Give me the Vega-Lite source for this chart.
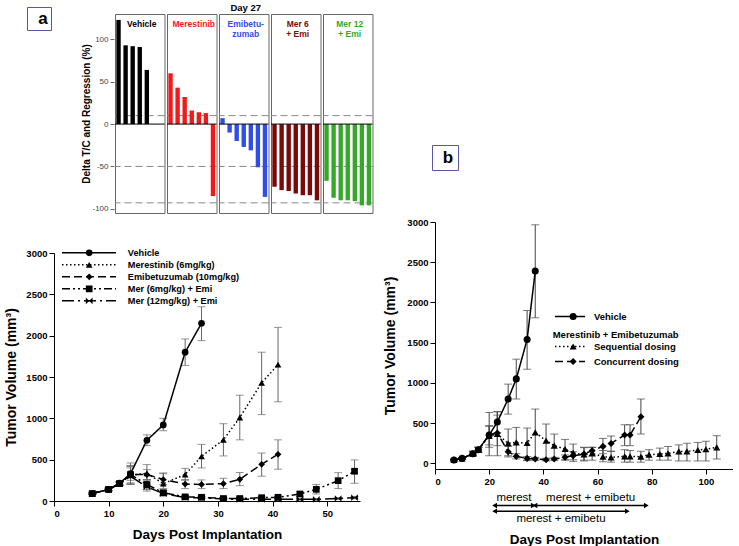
{
  "$schema": "https://vega.github.io/schema/vega-lite/v6.json",
  "background": "white",
  "padding": {"left": 4, "top": 3, "right": 0, "bottom": 0},
  "config": {
    "font": "Liberation Sans",
    "view": {"stroke": null},
    "axis": {"grid": false, "labelColor": "black", "titleColor": "black", "tickColor": "black", "domainColor": "black", "labelFont": "Liberation Sans", "titleFont": "Liberation Sans"},
    "legend": {"labelFont": "Liberation Sans", "titleFont": "Liberation Sans"}
  },
  "datasets": {
    "bars": [
      {"group": "Vehicle", "rank": 1, "value": 123},
      {"group": "Vehicle", "rank": 2, "value": 93},
      {"group": "Vehicle", "rank": 3, "value": 92},
      {"group": "Vehicle", "rank": 4, "value": 91},
      {"group": "Vehicle", "rank": 5, "value": 64},
      {"group": "Merestinib", "rank": 1, "value": 60},
      {"group": "Merestinib", "rank": 2, "value": 43},
      {"group": "Merestinib", "rank": 3, "value": 32},
      {"group": "Merestinib", "rank": 4, "value": 16},
      {"group": "Merestinib", "rank": 5, "value": 14},
      {"group": "Merestinib", "rank": 6, "value": 13},
      {"group": "Merestinib", "rank": 7, "value": -85},
      {"group": "Emibetu-\nzumab", "rank": 1, "value": 7},
      {"group": "Emibetu-\nzumab", "rank": 2, "value": -10},
      {"group": "Emibetu-\nzumab", "rank": 3, "value": -20},
      {"group": "Emibetu-\nzumab", "rank": 4, "value": -27},
      {"group": "Emibetu-\nzumab", "rank": 5, "value": -31},
      {"group": "Emibetu-\nzumab", "rank": 6, "value": -51},
      {"group": "Emibetu-\nzumab", "rank": 7, "value": -86},
      {"group": "Mer 6\n+ Emi", "rank": 1, "value": -74},
      {"group": "Mer 6\n+ Emi", "rank": 2, "value": -78},
      {"group": "Mer 6\n+ Emi", "rank": 3, "value": -79},
      {"group": "Mer 6\n+ Emi", "rank": 4, "value": -82},
      {"group": "Mer 6\n+ Emi", "rank": 5, "value": -84},
      {"group": "Mer 6\n+ Emi", "rank": 6, "value": -84},
      {"group": "Mer 6\n+ Emi", "rank": 7, "value": -90},
      {"group": "Mer 12\n+ Emi", "rank": 1, "value": -67},
      {"group": "Mer 12\n+ Emi", "rank": 2, "value": -87},
      {"group": "Mer 12\n+ Emi", "rank": 3, "value": -90},
      {"group": "Mer 12\n+ Emi", "rank": 4, "value": -90},
      {"group": "Mer 12\n+ Emi", "rank": 5, "value": -91},
      {"group": "Mer 12\n+ Emi", "rank": 6, "value": -96},
      {"group": "Mer 12\n+ Emi", "rank": 7, "value": -96}
    ],
    "tumorA": [
      {"series": "Vehicle", "day": 7, "vol": 90, "lo": 80, "hi": 100},
      {"series": "Vehicle", "day": 10, "vol": 140, "lo": 125, "hi": 155},
      {"series": "Vehicle", "day": 12, "vol": 215, "lo": 195, "hi": 235},
      {"series": "Vehicle", "day": 14, "vol": 330, "lo": 250, "hi": 460},
      {"series": "Vehicle", "day": 17, "vol": 735, "lo": 670, "hi": 800},
      {"series": "Vehicle", "day": 20, "vol": 920, "lo": 850, "hi": 1000},
      {"series": "Vehicle", "day": 24, "vol": 1800, "lo": 1640, "hi": 1960},
      {"series": "Vehicle", "day": 27, "vol": 2150, "lo": 1940, "hi": 2350},
      {"series": "Merestinib (6mg/kg)", "day": 7, "vol": 90, "lo": 80, "hi": 100},
      {"series": "Merestinib (6mg/kg)", "day": 10, "vol": 140, "lo": 125, "hi": 155},
      {"series": "Merestinib (6mg/kg)", "day": 12, "vol": 210, "lo": 190, "hi": 230},
      {"series": "Merestinib (6mg/kg)", "day": 14, "vol": 310, "lo": 210, "hi": 420},
      {"series": "Merestinib (6mg/kg)", "day": 17, "vol": 335, "lo": 250, "hi": 440},
      {"series": "Merestinib (6mg/kg)", "day": 20, "vol": 210, "lo": 150, "hi": 330},
      {"series": "Merestinib (6mg/kg)", "day": 24, "vol": 320, "lo": 250, "hi": 395},
      {"series": "Merestinib (6mg/kg)", "day": 27, "vol": 540, "lo": 400, "hi": 685},
      {"series": "Merestinib (6mg/kg)", "day": 31, "vol": 740, "lo": 545, "hi": 935},
      {"series": "Merestinib (6mg/kg)", "day": 34, "vol": 1010, "lo": 740, "hi": 1280},
      {"series": "Merestinib (6mg/kg)", "day": 38, "vol": 1430, "lo": 1045, "hi": 1800},
      {"series": "Merestinib (6mg/kg)", "day": 41, "vol": 1650, "lo": 1200, "hi": 2100},
      {"series": "Emibetuzumab (10mg/kg)", "day": 7, "vol": 90, "lo": 80, "hi": 100},
      {"series": "Emibetuzumab (10mg/kg)", "day": 10, "vol": 140, "lo": 125, "hi": 155},
      {"series": "Emibetuzumab (10mg/kg)", "day": 12, "vol": 210, "lo": 190, "hi": 230},
      {"series": "Emibetuzumab (10mg/kg)", "day": 14, "vol": 320, "lo": 220, "hi": 430},
      {"series": "Emibetuzumab (10mg/kg)", "day": 17, "vol": 320, "lo": 260, "hi": 380},
      {"series": "Emibetuzumab (10mg/kg)", "day": 20, "vol": 260, "lo": 200, "hi": 340},
      {"series": "Emibetuzumab (10mg/kg)", "day": 24, "vol": 205, "lo": 150, "hi": 260},
      {"series": "Emibetuzumab (10mg/kg)", "day": 27, "vol": 200, "lo": 150, "hi": 255},
      {"series": "Emibetuzumab (10mg/kg)", "day": 31, "vol": 210, "lo": 150, "hi": 275},
      {"series": "Emibetuzumab (10mg/kg)", "day": 34, "vol": 262, "lo": 185, "hi": 345},
      {"series": "Emibetuzumab (10mg/kg)", "day": 38, "vol": 444, "lo": 300, "hi": 580},
      {"series": "Emibetuzumab (10mg/kg)", "day": 41, "vol": 565, "lo": 385, "hi": 740},
      {"series": "Mer (6mg/kg) + Emi", "day": 7, "vol": 90, "lo": 80, "hi": 100},
      {"series": "Mer (6mg/kg) + Emi", "day": 10, "vol": 140, "lo": 125, "hi": 155},
      {"series": "Mer (6mg/kg) + Emi", "day": 12, "vol": 210, "lo": 190, "hi": 230},
      {"series": "Mer (6mg/kg) + Emi", "day": 14, "vol": 320, "lo": 200, "hi": 420},
      {"series": "Mer (6mg/kg) + Emi", "day": 17, "vol": 200, "lo": 140, "hi": 260},
      {"series": "Mer (6mg/kg) + Emi", "day": 20, "vol": 100, "lo": 70, "hi": 130},
      {"series": "Mer (6mg/kg) + Emi", "day": 24, "vol": 50, "lo": 35, "hi": 65},
      {"series": "Mer (6mg/kg) + Emi", "day": 27, "vol": 45, "lo": 30, "hi": 60},
      {"series": "Mer (6mg/kg) + Emi", "day": 31, "vol": 30, "lo": 20, "hi": 40},
      {"series": "Mer (6mg/kg) + Emi", "day": 34, "vol": 30, "lo": 20, "hi": 40},
      {"series": "Mer (6mg/kg) + Emi", "day": 38, "vol": 40, "lo": 25, "hi": 55},
      {"series": "Mer (6mg/kg) + Emi", "day": 41, "vol": 45, "lo": 30, "hi": 60},
      {"series": "Mer (6mg/kg) + Emi", "day": 45, "vol": 85, "lo": 60, "hi": 110},
      {"series": "Mer (6mg/kg) + Emi", "day": 48, "vol": 141, "lo": 85, "hi": 200},
      {"series": "Mer (6mg/kg) + Emi", "day": 52, "vol": 246, "lo": 150, "hi": 343},
      {"series": "Mer (6mg/kg) + Emi", "day": 55, "vol": 360, "lo": 214, "hi": 497},
      {"series": "Mer (12mg/kg) + Emi", "day": 7, "vol": 90, "lo": 80, "hi": 100},
      {"series": "Mer (12mg/kg) + Emi", "day": 10, "vol": 140, "lo": 125, "hi": 155},
      {"series": "Mer (12mg/kg) + Emi", "day": 12, "vol": 210, "lo": 190, "hi": 230},
      {"series": "Mer (12mg/kg) + Emi", "day": 14, "vol": 300, "lo": 200, "hi": 400},
      {"series": "Mer (12mg/kg) + Emi", "day": 17, "vol": 170, "lo": 120, "hi": 220},
      {"series": "Mer (12mg/kg) + Emi", "day": 20, "vol": 90, "lo": 60, "hi": 120},
      {"series": "Mer (12mg/kg) + Emi", "day": 24, "vol": 40, "lo": 25, "hi": 55},
      {"series": "Mer (12mg/kg) + Emi", "day": 27, "vol": 40, "lo": 25, "hi": 55},
      {"series": "Mer (12mg/kg) + Emi", "day": 31, "vol": 25, "lo": 15, "hi": 35},
      {"series": "Mer (12mg/kg) + Emi", "day": 34, "vol": 20, "lo": 10, "hi": 30},
      {"series": "Mer (12mg/kg) + Emi", "day": 38, "vol": 20, "lo": 10, "hi": 30},
      {"series": "Mer (12mg/kg) + Emi", "day": 41, "vol": 20, "lo": 10, "hi": 30},
      {"series": "Mer (12mg/kg) + Emi", "day": 45, "vol": 20, "lo": 10, "hi": 30},
      {"series": "Mer (12mg/kg) + Emi", "day": 48, "vol": 20, "lo": 10, "hi": 30},
      {"series": "Mer (12mg/kg) + Emi", "day": 52, "vol": 30, "lo": 20, "hi": 40},
      {"series": "Mer (12mg/kg) + Emi", "day": 55, "vol": 40, "lo": 25, "hi": 55}
    ],
    "tumorB": [
      {"series": "Vehicle", "day": 7, "vol": 42, "lo": 32, "hi": 52},
      {"series": "Vehicle", "day": 10, "vol": 62, "lo": 52, "hi": 72},
      {"series": "Vehicle", "day": 14, "vol": 120, "lo": 95, "hi": 150},
      {"series": "Vehicle", "day": 16, "vol": 170, "lo": 140, "hi": 200},
      {"series": "Vehicle", "day": 20, "vol": 352, "lo": 230, "hi": 470},
      {"series": "Vehicle", "day": 23, "vol": 515, "lo": 380, "hi": 645},
      {"series": "Vehicle", "day": 27, "vol": 800, "lo": 612, "hi": 985},
      {"series": "Vehicle", "day": 30, "vol": 1050, "lo": 800, "hi": 1295},
      {"series": "Vehicle", "day": 34, "vol": 1540, "lo": 1170, "hi": 1900},
      {"series": "Vehicle", "day": 37, "vol": 2390, "lo": 1810, "hi": 2965},
      {"series": "Sequential dosing", "day": 7, "vol": 42, "lo": 32, "hi": 52},
      {"series": "Sequential dosing", "day": 10, "vol": 62, "lo": 52, "hi": 72},
      {"series": "Sequential dosing", "day": 14, "vol": 120, "lo": 95, "hi": 150},
      {"series": "Sequential dosing", "day": 16, "vol": 170, "lo": 140, "hi": 200},
      {"series": "Sequential dosing", "day": 20, "vol": 340, "lo": 200, "hi": 460},
      {"series": "Sequential dosing", "day": 23, "vol": 365, "lo": 95, "hi": 600},
      {"series": "Sequential dosing", "day": 27, "vol": 248, "lo": 95, "hi": 427},
      {"series": "Sequential dosing", "day": 30, "vol": 261, "lo": 83, "hi": 447},
      {"series": "Sequential dosing", "day": 34, "vol": 253, "lo": 34, "hi": 439},
      {"series": "Sequential dosing", "day": 37, "vol": 385, "lo": 67, "hi": 675},
      {"series": "Sequential dosing", "day": 41, "vol": 282, "lo": 55, "hi": 489},
      {"series": "Sequential dosing", "day": 44, "vol": 220, "lo": 60, "hi": 364},
      {"series": "Sequential dosing", "day": 48, "vol": 178, "lo": 40, "hi": 298},
      {"series": "Sequential dosing", "day": 51, "vol": 130, "lo": 25, "hi": 240},
      {"series": "Sequential dosing", "day": 55, "vol": 110, "lo": 30, "hi": 200},
      {"series": "Sequential dosing", "day": 58, "vol": 125, "lo": 40, "hi": 200},
      {"series": "Sequential dosing", "day": 62, "vol": 83, "lo": 20, "hi": 160},
      {"series": "Sequential dosing", "day": 65, "vol": 75, "lo": 15, "hi": 150},
      {"series": "Sequential dosing", "day": 70, "vol": 87, "lo": 15, "hi": 170},
      {"series": "Sequential dosing", "day": 72, "vol": 87, "lo": 15, "hi": 160},
      {"series": "Sequential dosing", "day": 76, "vol": 83, "lo": 15, "hi": 150},
      {"series": "Sequential dosing", "day": 79, "vol": 108, "lo": 40, "hi": 170},
      {"series": "Sequential dosing", "day": 83, "vol": 116, "lo": 40, "hi": 190},
      {"series": "Sequential dosing", "day": 86, "vol": 124, "lo": 40, "hi": 210},
      {"series": "Sequential dosing", "day": 90, "vol": 149, "lo": 30, "hi": 230},
      {"series": "Sequential dosing", "day": 93, "vol": 149, "lo": 30, "hi": 250},
      {"series": "Sequential dosing", "day": 97, "vol": 166, "lo": 30, "hi": 260},
      {"series": "Sequential dosing", "day": 100, "vol": 175, "lo": 30, "hi": 275},
      {"series": "Sequential dosing", "day": 104, "vol": 199, "lo": 54, "hi": 344},
      {"series": "Concurrent dosing", "day": 7, "vol": 42, "lo": 32, "hi": 52},
      {"series": "Concurrent dosing", "day": 10, "vol": 62, "lo": 52, "hi": 72},
      {"series": "Concurrent dosing", "day": 14, "vol": 120, "lo": 95, "hi": 150},
      {"series": "Concurrent dosing", "day": 16, "vol": 170, "lo": 140, "hi": 200},
      {"series": "Concurrent dosing", "day": 20, "vol": 352, "lo": 95, "hi": 632},
      {"series": "Concurrent dosing", "day": 23, "vol": 377, "lo": 220, "hi": 640},
      {"series": "Concurrent dosing", "day": 27, "vol": 145, "lo": 80, "hi": 215},
      {"series": "Concurrent dosing", "day": 30, "vol": 87, "lo": 55, "hi": 120},
      {"series": "Concurrent dosing", "day": 34, "vol": 62, "lo": 40, "hi": 85},
      {"series": "Concurrent dosing", "day": 37, "vol": 54, "lo": 35, "hi": 75},
      {"series": "Concurrent dosing", "day": 41, "vol": 46, "lo": 30, "hi": 65},
      {"series": "Concurrent dosing", "day": 44, "vol": 54, "lo": 35, "hi": 75},
      {"series": "Concurrent dosing", "day": 48, "vol": 75, "lo": 45, "hi": 105},
      {"series": "Concurrent dosing", "day": 51, "vol": 95, "lo": 45, "hi": 145},
      {"series": "Concurrent dosing", "day": 55, "vol": 116, "lo": 40, "hi": 195},
      {"series": "Concurrent dosing", "day": 58, "vol": 158, "lo": 90, "hi": 200},
      {"series": "Concurrent dosing", "day": 62, "vol": 211, "lo": 120, "hi": 310},
      {"series": "Concurrent dosing", "day": 65, "vol": 248, "lo": 150, "hi": 340},
      {"series": "Concurrent dosing", "day": 70, "vol": 352, "lo": 220, "hi": 480},
      {"series": "Concurrent dosing", "day": 72, "vol": 352, "lo": 220, "hi": 480},
      {"series": "Concurrent dosing", "day": 76, "vol": 580, "lo": 365, "hi": 800}
    ],
    "dosing": [
      {"label": "merest", "start": 22, "end": 36.3, "row": 1},
      {"label": "merest + emibetu", "start": 36.9, "end": 78, "row": 1},
      {"label": "merest + emibetu", "start": 22, "end": 71, "row": 2}
    ]
  },
  "resolve": {"scale": {"shape": "independent", "strokeDash": "independent", "color": "independent"}, "legend": {"shape": "independent", "strokeDash": "independent", "color": "independent"}},
  "hconcat": [
    {
      "resolve": {"scale": {"shape": "independent", "strokeDash": "independent", "color": "independent"}, "legend": {"shape": "independent", "strokeDash": "independent", "color": "independent"}},
      "concat": [
        {
          "resolve": {"scale": {"color": "independent"}, "legend": {"color": "independent"}},
          "concat": [
            {
              "width": 3, "height": 10,
              "data": {"values": [{"t": "a"}]},
              "mark": {"type": "point", "opacity": 0},
              "encoding": {
                "color": {"field": "t", "type": "nominal", "scale": {"range": ["transparent"]},
                  "legend": {"orient": "none", "legendX": -27, "legendY": -7, "title": null, "strokeColor": "#5a55a5", "padding": 3, "symbolSize": 30, "symbolOpacity": 0, "labelFontSize": 17, "labelFontWeight": "bold", "labelColor": "black", "labelOffset": -8.75, "clipHeight": 17, "labelExpr": "'a\u2002'",
                    "encode": {"legend": {"strokeWidth": {"value": 1.5}}}}}
              }
            },
            {
              "data": {"name": "bars"},
              "title": {"text": "Day 27", "fontSize": 9.5, "fontWeight": "bold", "color": "black", "font": "Liberation Sans", "offset": 1, "frame": "bounds", "anchor": "middle", "dx": 18},
              "facet": {
                "column": {
                  "field": "group", "type": "nominal",
                  "sort": ["Vehicle", "Merestinib", "Emibetu-\nzumab", "Mer 6\n+ Emi", "Mer 12\n+ Emi"],
                  "title": null,
                  "header": {"labels": false, "labelPadding": 0, "titlePadding": 0}
                }
              },
              "spacing": 0,
              "spec": {
                "width": 49.5, "height": 199,
                "view": {"stroke": "#666666", "strokeWidth": 1},
                "layer": [
                  {"transform": [{"filter": "datum.rank == 1"}], "mark": {"type": "rule", "color": "#888888", "strokeDash": [7, 4], "strokeWidth": 1}, "encoding": {"y": {"datum": 10}}},
                  {"transform": [{"filter": "datum.rank == 1"}], "mark": {"type": "rule", "color": "#888888", "strokeDash": [7, 4], "strokeWidth": 1}, "encoding": {"y": {"datum": -50}}},
                  {"transform": [{"filter": "datum.rank == 1"}], "mark": {"type": "rule", "color": "#888888", "strokeDash": [7, 4], "strokeWidth": 1}, "encoding": {"y": {"datum": -93}}},
                  {
                    "mark": {"type": "bar"},
                    "encoding": {
                      "x": {"field": "rank", "type": "ordinal", "scale": {"domain": [1, 2, 3, 4, 5, 6, 7], "paddingInner": 0.38, "paddingOuter": 0.19}, "axis": null},
                      "y": {"field": "value", "type": "quantitative", "scale": {"domain": [-105, 130], "nice": false},
                        "axis": {"title": "Delta T/C and Regression (%)", "values": [-100, -50, 0, 50, 100], "labelExpr": "replace(datum.label, '−', '-')", "domain": false, "tickColor": "#666666", "tickSize": 4, "labelColor": "#444444", "labelFontSize": 8, "labelPadding": 2, "titleFontSize": 10, "titleFontWeight": "bold", "titlePadding": 0}},
                      "color": {"field": "group", "type": "nominal", "scale": {"domain": ["Vehicle", "Merestinib", "Emibetu-\nzumab", "Mer 6\n+ Emi", "Mer 12\n+ Emi"], "range": ["#000000", "#f01a1a", "#2f4de8", "#7a0a0a", "#35a82a"]}, "legend": null}
                    }
                  },
                  {"transform": [{"filter": "datum.rank == 1"}], "mark": {"type": "rule", "color": "black", "strokeWidth": 1}, "encoding": {"y": {"datum": 0}}},
                  {
                    "transform": [{"filter": "datum.rank == 1"}],
                    "mark": {"type": "text", "baseline": "top", "align": "center", "lineBreak": "\n", "fontSize": 8.5, "fontWeight": "bold", "lineHeight": 10, "dx": 2},
                    "encoding": {
                      "y": {"datum": 123},
                      "text": {"field": "group"},
                      "color": {"field": "group", "type": "nominal", "legend": null}
                    }
                  }
                ]
              }
            }
          ],
          "columns": 2, "align": "none", "spacing": 22
        },
        {
          "width": 306, "height": 248,
          "data": {"name": "tumorA"},
          "encoding": {
            "x": {"field": "day", "type": "quantitative", "scale": {"domain": [0, 56], "nice": false},
              "axis": {"title": "Days Post Implantation", "values": [0, 10, 20, 30, 40, 50], "labelFontSize": 9.5, "labelFontWeight": "bold", "tickSize": 5, "labelPadding": 2, "titleFontSize": 13.5, "titleFontWeight": "bold", "titlePadding": 10}}
          },
          "layer": [
            {
              "mark": {"type": "rule", "color": "#666666", "strokeWidth": 1},
              "encoding": {
                "y": {"field": "lo", "type": "quantitative", "scale": {"domain": [0, 3000], "nice": false},
                  "axis": {"title": "Tumor Volume (mm³)", "format": "d", "values": [0, 500, 1000, 1500, 2000, 2500, 3000], "labelFontSize": 9.5, "labelFontWeight": "bold", "tickSize": 5, "labelPadding": 2, "titleFontSize": 14, "titleFontWeight": "bold", "titlePadding": 7}},
                "y2": {"field": "hi"}
              }
            },
            {"mark": {"type": "tick", "orient": "horizontal", "size": 8, "thickness": 1, "color": "#666666"}, "encoding": {"y": {"field": "lo", "type": "quantitative"}}},
            {"mark": {"type": "tick", "orient": "horizontal", "size": 8, "thickness": 1, "color": "#666666"}, "encoding": {"y": {"field": "hi", "type": "quantitative"}}},
            {
              "mark": {"type": "line", "color": "black", "strokeWidth": 1.5},
              "encoding": {
                "y": {"field": "vol", "type": "quantitative"},
                "strokeDash": {"field": "series", "type": "nominal",
                  "scale": {"domain": ["Vehicle", "Merestinib (6mg/kg)", "Emibetuzumab (10mg/kg)", "Mer (6mg/kg) + Emi", "Mer (12mg/kg) + Emi"], "range": [[1, 0], [1.5, 2.5], [8, 4], [8, 3, 2, 3, 2, 3], [12, 4, 2, 4]]},
                  "legend": {"orient": "none", "legendX": 7, "legendY": -6, "title": null, "symbolType": "stroke", "symbolSize": 2916, "symbolStrokeWidth": 1.5, "symbolStrokeColor": "black", "labelOpacity": 0, "labelFontSize": 9.2, "clipHeight": 11.6, "rowPadding": 0, "padding": 0}}
              }
            },
            {
              "mark": {"type": "point", "filled": true, "color": "black", "size": 45, "opacity": 1},
              "encoding": {
                "y": {"field": "vol", "type": "quantitative"},
                "shape": {"field": "series", "type": "nominal", "sort": null,
                  "scale": {"range": ["circle", "triangle-up", "diamond", "square", "M-1,-1L1,1L1,-1L-1,1Z"]},
                  "legend": {"orient": "none", "legendX": 30.6, "legendY": -6, "title": null, "symbolSize": 45, "symbolFillColor": "black", "symbolStrokeColor": "black", "symbolStrokeWidth": 0, "labelFontSize": 9.2, "labelFontWeight": "bold", "labelColor": "black", "labelOffset": 34, "labelLimit": 400, "clipHeight": 11.6, "rowPadding": 0, "padding": 0}}
              }
            }
          ]
        }
      ],
      "columns": 1, "align": "none", "spacing": 33
    },
    {
      "resolve": {"scale": {"shape": "independent", "strokeDash": "independent", "color": "independent"}, "legend": {"shape": "independent", "strokeDash": "independent", "color": "independent"}},
      "vconcat": [
        {
          "width": 3, "height": 198,
          "data": {"values": [{"t": "b"}]},
          "mark": {"type": "point", "opacity": 0},
          "encoding": {
            "color": {"field": "t", "type": "nominal", "scale": {"range": ["transparent"]},
              "legend": {"orient": "none", "legendX": -3, "legendY": 131, "title": null, "strokeColor": "#5a55a5", "padding": 4, "symbolSize": 30, "symbolOpacity": 0, "labelFontSize": 17, "labelFontWeight": "bold", "labelColor": "black", "labelOffset": -10.2, "clipHeight": 17, "labelExpr": "'b\u2002'",
                "encode": {"legend": {"strokeWidth": {"value": 1.5}}}}}
          }
        },
        {
          "width": 298, "height": 247,
          "data": {"name": "tumorB"},
          "encoding": {
            "x": {"field": "day", "type": "quantitative", "scale": {"domain": [0, 110], "nice": false},
              "axis": {"title": null, "values": [0, 20, 40, 60, 80, 100], "labelFontSize": 9.5, "labelFontWeight": "bold", "tickSize": 5, "labelPadding": 2}}
          },
          "layer": [
            {
              "mark": {"type": "rule", "color": "#444444", "strokeWidth": 1},
              "encoding": {
                "y": {"field": "lo", "type": "quantitative", "scale": {"domain": [-70, 3000], "nice": false},
                  "axis": {"title": "Tumor Volume (mm³)", "format": "d", "values": [0, 500, 1000, 1500, 2000, 2500, 3000], "labelFontSize": 9.5, "labelFontWeight": "bold", "tickSize": 5, "labelPadding": 2, "titleFontSize": 14, "titleFontWeight": "bold", "titlePadding": 9}},
                "y2": {"field": "hi"}
              }
            },
            {"mark": {"type": "tick", "orient": "horizontal", "size": 8, "thickness": 1, "color": "#444444"}, "encoding": {"y": {"field": "lo", "type": "quantitative"}}},
            {"mark": {"type": "tick", "orient": "horizontal", "size": 8, "thickness": 1, "color": "#444444"}, "encoding": {"y": {"field": "hi", "type": "quantitative"}}},
            {
              "mark": {"type": "line", "color": "black", "strokeWidth": 1.5},
              "encoding": {
                "y": {"field": "vol", "type": "quantitative"},
                "strokeDash": {"field": "series", "type": "nominal",
                  "scale": {"domain": ["Vehicle", "hdr", "Sequential dosing", "Concurrent dosing"], "range": [[1, 0], [0, 1000], [1.5, 2.5], [8, 4]]},
                  "legend": {"orient": "none", "legendX": 119, "legendY": 87, "title": null, "symbolType": "stroke", "symbolSize": 900, "symbolStrokeWidth": 1.5, "symbolStrokeColor": "black", "labelOpacity": 0, "labelFontSize": 9.5, "clipHeight": 15, "rowPadding": 0, "padding": 0}}
              }
            },
            {
              "mark": {"type": "point", "filled": true, "size": 50, "opacity": 1},
              "encoding": {
                "y": {"field": "vol", "type": "quantitative"},
                "shape": {"field": "series", "type": "nominal",
                  "scale": {"domain": ["Vehicle", " ", "Sequential dosing", "Concurrent dosing"], "range": ["circle", "M0,0", "triangle-up", "diamond"]},
                  "legend": {"orient": "none", "legendX": 133.4, "legendY": 87, "title": null, "symbolSize": 50, "symbolFillColor": "black", "symbolStrokeColor": "black", "symbolStrokeWidth": 0, "labelFontSize": 9.5, "labelFontWeight": "bold", "labelColor": "black", "labelOffset": 16, "labelLimit": 400, "clipHeight": 15, "rowPadding": 0, "padding": 0}},
                "color": {"field": "series", "type": "nominal", "scale": {"range": ["black"]},
                  "legend": {"orient": "none", "legendX": 117.7, "legendY": 108, "title": "Merestinib + Emibetuzumab", "titleFontSize": 9.5, "titleFontWeight": "bold", "titleColor": "black", "titlePadding": 0, "titleLimit": 400, "symbolOpacity": 0, "symbolSize": 1, "labelOpacity": 0, "labelFontSize": 1, "clipHeight": 1, "rowPadding": 0, "padding": 0}}
              }
            }
          ]
        },
        {
          "width": 298, "height": 27,
          "data": {"name": "dosing"},
          "encoding": {
            "y": {"field": "row", "type": "quantitative", "scale": {"domain": [0.2, 5], "reverse": true, "nice": false}, "axis": null}
          },
          "layer": [
            {
              "mark": {"type": "rule", "color": "black", "strokeWidth": 1.5},
              "encoding": {
                "x": {"field": "start", "type": "quantitative", "scale": {"domain": [0, 110], "nice": false},
                  "axis": {"title": "Days Post Implantation", "labels": false, "ticks": false, "domain": false, "titleFontSize": 13.5, "titleFontWeight": "bold", "titlePadding": 4}},
                "x2": {"field": "end"}
              }
            },
            {"mark": {"type": "point", "shape": "triangle-left", "filled": true, "color": "black", "size": 30, "opacity": 1}, "encoding": {"x": {"field": "start", "type": "quantitative"}}},
            {"mark": {"type": "point", "shape": "triangle-right", "filled": true, "color": "black", "size": 30, "opacity": 1}, "encoding": {"x": {"field": "end", "type": "quantitative"}}},
            {
              "transform": [{"filter": "datum.row == 1"}, {"calculate": "(datum.start + datum.end) / 2", "as": "mid"}],
              "mark": {"type": "text", "fontSize": 11.5, "color": "black", "dy": -8, "baseline": "middle"},
              "encoding": {"x": {"field": "mid", "type": "quantitative"}, "text": {"field": "label"}}
            },
            {
              "transform": [{"filter": "datum.row == 2"}, {"calculate": "(datum.start + datum.end) / 2", "as": "mid"}],
              "mark": {"type": "text", "fontSize": 11.5, "color": "black", "dy": 8, "baseline": "middle"},
              "encoding": {"x": {"field": "mid", "type": "quantitative"}, "text": {"field": "label"}}
            }
          ]
        }
      ],
      "spacing": 5
    }
  ],
  "spacing": 9
}
